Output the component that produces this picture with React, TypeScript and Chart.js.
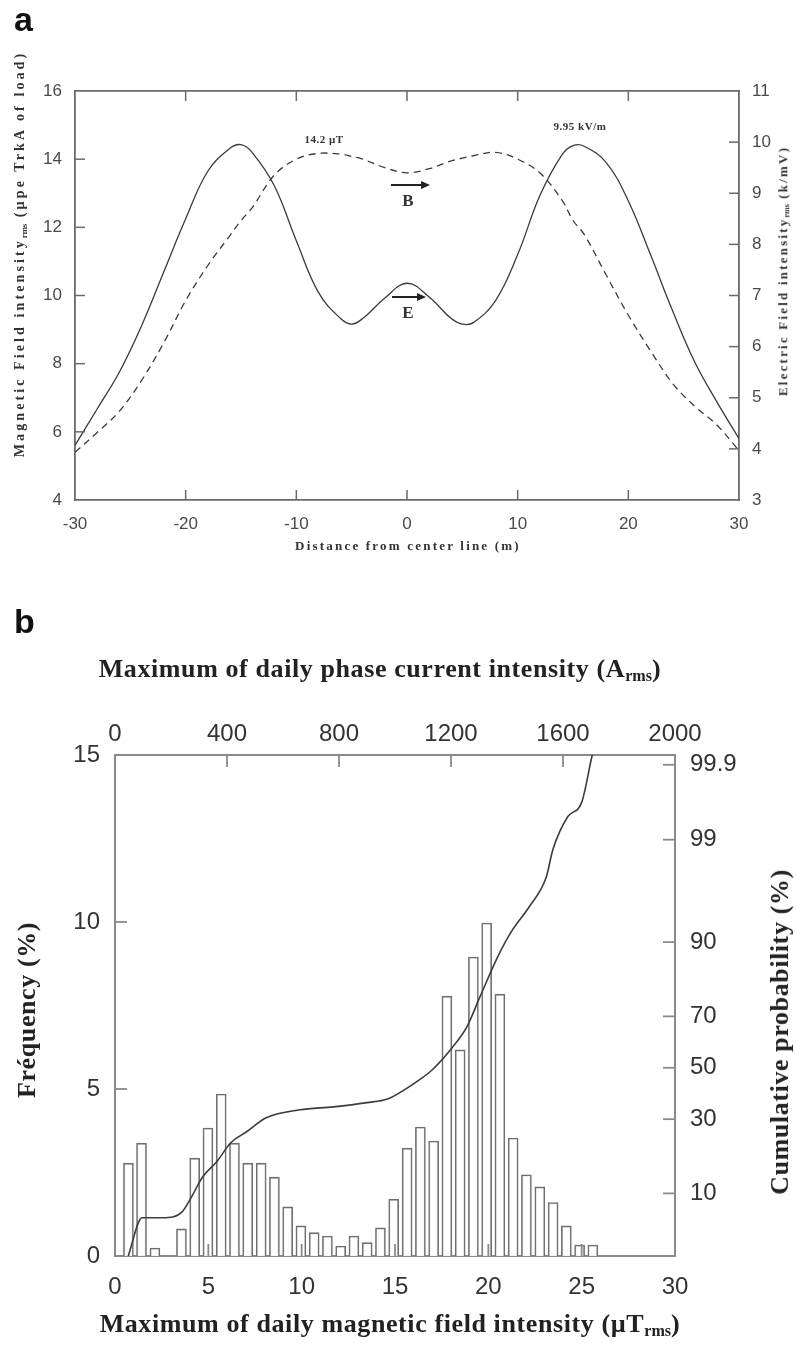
import React, { useEffect, useRef } from "react";
import { Chart, registerables } from "chart.js";
Chart.register(...registerables);

// ---------- Panel a data ----------
const DIST = [-30, -28, -26, -24, -22, -20, -18, -16, -15, -14, -12, -10, -8, -6, -5, -4, -2, 0, 2, 4, 5, 6, 8, 10, 12, 14, 15, 16, 18, 20, 22, 24, 26, 28, 30];
const E_FIELD = [4.07, 4.78, 5.5, 6.4, 7.45, 8.5, 9.43, 9.88, 9.95, 9.8, 9.15, 8.07, 7.06, 6.55, 6.44, 6.55, 6.95, 7.24, 6.97, 6.55, 6.44, 6.47, 6.9, 7.8, 8.95, 9.75, 9.93, 9.92, 9.6, 8.85, 7.8, 6.7, 5.7, 4.92, 4.2];
const B_FIELD = [5.4, 5.98, 6.6, 7.5, 8.6, 9.85, 10.88, 11.76, 12.2, 12.57, 13.53, 14.0, 14.17, 14.15, 14.08, 14.0, 13.75, 13.6, 13.72, 13.95, 14.03, 14.1, 14.2, 14.0, 13.6, 12.8, 12.2, 11.8, 10.6, 9.42, 8.38, 7.42, 6.75, 6.2, 5.45];
const A_X_TICKS = [-30, -20, -10, 0, 10, 20, 30];

// ---------- Panel b data ----------
const BIN_CENTERS = [0.72, 1.42, 2.14, 2.85, 3.56, 4.27, 4.98, 5.69, 6.4, 7.11, 7.83, 8.54, 9.25, 9.96, 10.67, 11.38, 12.09, 12.8, 13.51, 14.22, 14.93, 15.65, 16.36, 17.07, 17.78, 18.49, 19.2, 19.91, 20.62, 21.33, 22.04, 22.76, 23.47, 24.18, 24.89, 25.6];
const FREQ = [2.78, 3.38, 0.24, null, 0.81, 2.93, 3.83, 4.85, 3.38, 2.78, 2.78, 2.36, 1.47, 0.9, 0.7, 0.6, 0.3, 0.6, 0.4, 0.84, 1.7, 3.23, 3.86, 3.44, 7.78, 6.17, 8.95, 9.97, 7.84, 3.53, 2.43, 2.07, 1.6, 0.9, 0.33, 0.33];
const CUM_X = [0.7, 1.45, 2.5, 3.1, 3.6, 4.1, 4.7, 5.45, 6.2, 7.05, 8.1, 9.9, 11.7, 13.5, 14.6, 15.5, 16.3, 17.0, 18.1, 18.85, 19.55, 20.5, 21.2, 22.2, 23.1, 23.46, 24.26, 25.0, 25.55, 25.8];
const CUM_P = [2.7, 6.3, 6.3, 6.4, 7.1, 9.4, 13.3, 16.9, 22.2, 25.7, 30.5, 33.4, 34.5, 36.1, 37.5, 41.1, 45.1, 49.2, 58.5, 66.2, 76.5, 87.1, 91.6, 95.0, 97.4, 98.7, 99.48, 99.66, 99.925, 99.96];
const PROB_TICKS = [99.9, 99, 90, 70, 50, 30, 10];
const PROB_LABELS = ["99.9", "99", "90", "70", "50", "30", "10"];

// inverse normal CDF (probability-paper scale transform)
function probit(pct: number): number {
  const p = pct / 100;
  const a = [-3.969683028665376e1, 2.209460984245205e2, -2.759285104469687e2, 1.38357751867269e2, -3.066479806614716e1, 2.506628277459239];
  const b = [-5.447609879822406e1, 1.615858368580409e2, -1.556989798598866e2, 6.680131188771972e1, -1.328068155288572e1];
  const c = [-7.784894002430293e-3, -3.223964580411365e-1, -2.400758277161838, -2.549732539343734, 4.374664141464968, 2.938163982698783];
  const d = [7.784695709041462e-3, 3.224671290700398e-1, 2.445134137142996, 3.754408661907416];
  const plow = 0.02425;
  if (p < plow) {
    const q = Math.sqrt(-2 * Math.log(p));
    return (((((c[0] * q + c[1]) * q + c[2]) * q + c[3]) * q + c[4]) * q + c[5]) / ((((d[0] * q + d[1]) * q + d[2]) * q + d[3]) * q + 1);
  } else if (p <= 1 - plow) {
    const q = p - 0.5;
    const r = q * q;
    return ((((((a[0] * r + a[1]) * r + a[2]) * r + a[3]) * r + a[4]) * r + a[5]) * q) / (((((b[0] * r + b[1]) * r + b[2]) * r + b[3]) * r + b[4]) * r + 1);
  }
  const q = Math.sqrt(-2 * Math.log(1 - p));
  return -(((((c[0] * q + c[1]) * q + c[2]) * q + c[3]) * q + c[4]) * q + c[5]) / ((((d[0] * q + d[1]) * q + d[2]) * q + d[3]) * q + 1);
}

const innerTicks = {
  id: "innerTicks",
  afterDatasetsDraw(chart: any, _args: any, opts: any) {
    const { ctx, chartArea: a } = chart;
    const len = opts.length ?? 10;
    ctx.save();
    ctx.strokeStyle = opts.color ?? "#666";
    ctx.lineWidth = opts.width ?? 1.5;
    for (const id of Object.keys(chart.scales)) {
      const s = chart.scales[id];
      for (const t of s.ticks) {
        const p = s.getPixelForValue(t.value);
        if (s.isHorizontal()) {
          if (p <= a.left + 2 || p >= a.right - 2) continue;
          ctx.beginPath();
          if (s.position === "bottom") {
            ctx.moveTo(p, a.bottom);
            ctx.lineTo(p, a.bottom - len);
          } else {
            ctx.moveTo(p, a.top);
            ctx.lineTo(p, a.top + len);
          }
          ctx.stroke();
        } else {
          if (p <= a.top + 2 || p >= a.bottom - 2) continue;
          ctx.beginPath();
          if (s.position === "left") {
            ctx.moveTo(a.left, p);
            ctx.lineTo(a.left + len, p);
          } else {
            ctx.moveTo(a.right, p);
            ctx.lineTo(a.right - len, p);
          }
          ctx.stroke();
        }
      }
    }
    ctx.restore();
  },
};

const fixW = (w: number) => (s: any) => {
  s.width = w;
};
const fixH = (h: number) => (s: any) => {
  s.height = h;
};
const noGrid = { display: false, drawTicks: false, offset: false };

function PanelA() {
  const ref = useRef<HTMLCanvasElement>(null);
  useEffect(() => {
    const tickFont = { family: '"Liberation Sans", Arial, sans-serif', size: 17 };
    const axisColor = "#6a6a6a";
    const chart = new Chart(ref.current!, {
      type: "line",
      data: {
        datasets: [
          {
            label: "E",
            data: DIST.map((x, i) => ({ x, y: E_FIELD[i] })),
            yAxisID: "y2",
            xAxisID: "x",
            borderColor: "#3a3a3a",
            borderWidth: 1.3,
            pointRadius: 0,
            tension: 0.4,
            fill: false,
          },
          {
            label: "B",
            data: DIST.map((x, i) => ({ x, y: B_FIELD[i] })),
            yAxisID: "y",
            xAxisID: "x",
            borderColor: "#3a3a3a",
            borderWidth: 1.3,
            borderDash: [7, 5],
            pointRadius: 0,
            tension: 0.35,
            fill: false,
          },
        ],
      },
      options: {
        responsive: false,
        animation: false,
        events: [],
        layout: { padding: 0 },
        plugins: {
          legend: { display: false },
          tooltip: { enabled: false },
          innerTicks: { length: 10, color: axisColor, width: 1.5 },
        } as any,
        scales: {
          x: {
            type: "linear",
            position: "bottom",
            min: -30,
            max: 30,
            afterFit: fixH(60),
            afterBuildTicks: (s: any) => {
              s.ticks = A_X_TICKS.map((v) => ({ value: v }));
            },
            grid: noGrid,
            border: { display: true, color: axisColor, width: 1.8 },
            ticks: { font: tickFont, color: "#4a4a4a", padding: 14, maxRotation: 0, autoSkip: false },
          },
          x2: {
            type: "linear",
            position: "top",
            min: -30,
            max: 30,
            afterFit: fixH(91),
            afterBuildTicks: (s: any) => {
              s.ticks = A_X_TICKS.map((v) => ({ value: v }));
            },
            grid: noGrid,
            border: { display: true, color: axisColor, width: 1.8 },
            ticks: { display: false },
          },
          y: {
            type: "linear",
            position: "left",
            min: 4,
            max: 16,
            afterFit: fixW(75),
            grid: noGrid,
            border: { display: true, color: axisColor, width: 1.8 },
            ticks: { stepSize: 2, font: tickFont, color: "#4a4a4a", padding: 13 },
          },
          y2: {
            type: "linear",
            position: "right",
            min: 3,
            max: 11,
            afterFit: fixW(57),
            grid: noGrid,
            border: { display: true, color: axisColor, width: 1.8 },
            ticks: { stepSize: 1, font: tickFont, color: "#4a4a4a", padding: 13 },
          },
        },
      },
      plugins: [innerTicks],
    } as any);
    return () => chart.destroy();
  }, []);
  return <canvas ref={ref} width={796} height={560} style={{ position: "absolute", left: 0, top: 0, width: 796, height: 560 }} />;
}

function PanelB() {
  const ref = useRef<HTMLCanvasElement>(null);
  useEffect(() => {
    const tickFont = { family: '"Liberation Sans", Arial, sans-serif', size: 24 };
    const axisColor = "#8a8a8a";
    const zMin = -1.92;
    const zMax = 3.19;
    const chart = new Chart(ref.current!, {
      type: "bar",
      data: {
        datasets: [
          {
            type: "line",
            label: "Cumulative probability",
            data: CUM_X.map((x, i) => ({ x, y: probit(CUM_P[i]) })),
            xAxisID: "x",
            yAxisID: "yP",
            borderColor: "#3c3c3c",
            borderWidth: 1.6,
            pointRadius: 0,
            cubicInterpolationMode: "monotone",
            fill: false,
            order: 0,
          },
          {
            type: "bar",
            label: "Frequency",
            data: BIN_CENTERS.map((x, i) => ({ x, y: FREQ[i] })),
            xAxisID: "x",
            yAxisID: "y",
            backgroundColor: "rgba(255,255,255,0.9)",
            borderColor: "#707070",
            borderWidth: 1.6,
            barThickness: 10,
            order: 1,
          },
        ],
      },
      options: {
        responsive: false,
        animation: false,
        events: [],
        layout: { padding: 0 },
        plugins: {
          legend: { display: false },
          tooltip: { enabled: false },
          innerTicks: { length: 12, color: axisColor, width: 1.8 },
        } as any,
        scales: {
          x: {
            type: "linear",
            position: "bottom",
            min: 0,
            max: 30,
            offset: false,
            afterFit: fixH(90),
            grid: noGrid,
            border: { display: true, color: axisColor, width: 2 },
            ticks: { stepSize: 5, font: tickFont, color: "#333", padding: 17, maxRotation: 0, autoSkip: false },
          },
          xTop: {
            type: "linear",
            position: "top",
            min: 0,
            max: 2000,
            offset: false,
            afterFit: fixH(195),
            grid: noGrid,
            border: { display: true, color: axisColor, width: 2 },
            ticks: {
              stepSize: 400,
              font: tickFont,
              color: "#333",
              padding: 6,
              maxRotation: 0,
              autoSkip: false,
              callback: (v: any) => String(v),
            },
          },
          y: {
            type: "linear",
            position: "left",
            min: 0,
            max: 15,
            afterFit: fixW(115),
            grid: noGrid,
            border: { display: true, color: axisColor, width: 2 },
            ticks: { stepSize: 5, font: tickFont, color: "#333", padding: 15 },
          },
          yP: {
            type: "linear",
            position: "right",
            min: zMin,
            max: zMax,
            afterFit: fixW(121),
            afterBuildTicks: (s: any) => {
              s.ticks = PROB_TICKS.map((p) => ({ value: probit(p) }));
            },
            grid: noGrid,
            border: { display: true, color: axisColor, width: 2 },
            ticks: {
              font: tickFont,
              color: "#333",
              padding: 15,
              autoSkip: false,
              callback: (_v: any, i: number) => PROB_LABELS[i],
            },
          },
        },
      },
      plugins: [innerTicks],
    } as any);
    return () => chart.destroy();
  }, []);
  return <canvas ref={ref} width={796} height={786} style={{ position: "absolute", left: 0, top: 560, width: 796, height: 786 }} />;
}

const centered = (cx: number, cy: number, rot: number, extra: React.CSSProperties): React.CSSProperties => ({
  position: "absolute",
  left: cx,
  top: cy,
  whiteSpace: "nowrap",
  lineHeight: 1,
  transform: `translate(-50%, -50%)${rot ? ` rotate(${rot}deg)` : ""}`,
  ...extra,
});

const serifA: React.CSSProperties = {
  fontFamily: '"Liberation Serif", "Times New Roman", serif',
  fontWeight: "bold",
  fontSize: 13,
  letterSpacing: "2.2px",
  color: "#333",
};
const serifB: React.CSSProperties = {
  fontFamily: '"Liberation Serif", "Times New Roman", serif',
  fontWeight: "bold",
  fontSize: 26,
  letterSpacing: "0.6px",
  color: "#222",
};
const panelLetter: React.CSSProperties = {
  position: "absolute",
  left: 14,
  fontFamily: '"Liberation Sans", Arial, sans-serif',
  fontWeight: "bold",
  fontSize: 34,
  lineHeight: 1,
  color: "#111",
};
const sub: React.CSSProperties = { fontSize: "0.62em", verticalAlign: "-0.3em", letterSpacing: 0 };

function Arrow({ x1, x2, y }: { x1: number; x2: number; y: number }) {
  return (
    <div style={{ position: "absolute", left: x1, top: y - 1, width: x2 - x1, height: 2 }}>
      <div style={{ position: "absolute", left: 0, right: 6, top: 0, height: 2, background: "#222" }} />
      <div
        style={{
          position: "absolute",
          right: 0,
          top: -3,
          width: 0,
          height: 0,
          borderTop: "4px solid transparent",
          borderBottom: "4px solid transparent",
          borderLeft: "9px solid #222",
        }}
      />
    </div>
  );
}

export default function App() {
  return (
    <div style={{ position: "absolute", left: 0, top: 0, width: 796, height: 1346, background: "#fff", overflow: "hidden" }}>
      <PanelA />
      <PanelB />
      {/* Panel a texts */}
      <div style={{ ...panelLetter, top: 2 }}>a</div>
      <div style={centered(21, 254, -90, { ...serifA, fontSize: 14, letterSpacing: "3.1px" })}>
        Magnetic Field intensity<span style={sub}>rms</span> (µpe TrkA of load)
      </div>
      <div style={centered(784, 271, -90, serifA)}>
        Electric Field intensity<span style={sub}>rms</span> (k/mV)
      </div>
      <div style={centered(408, 545, 0, serifA)}>Distance from center line (m)</div>
      <div style={centered(324, 139, 0, { ...serifA, fontSize: 11, letterSpacing: "0.5px" })}>14.2 µT</div>
      <div style={centered(580, 126, 0, { ...serifA, fontSize: 11, letterSpacing: "0.5px" })}>9.95 kV/m</div>
      <Arrow x1={391} x2={430} y={185} />
      <div style={centered(408, 200, 0, { ...serifA, fontSize: 17, letterSpacing: 0 })}>B</div>
      <Arrow x1={392} x2={426} y={297} />
      <div style={centered(408, 312, 0, { ...serifA, fontSize: 17, letterSpacing: 0 })}>E</div>
      {/* Panel b texts */}
      <div style={{ ...panelLetter, top: 604 }}>b</div>
      <div style={centered(380, 670, 0, serifB)}>
        Maximum of daily phase current intensity (A<span style={sub}>rms</span>)
      </div>
      <div style={centered(390, 1325, 0, serifB)}>
        Maximum of daily magnetic field intensity (µT<span style={sub}>rms</span>)
      </div>
      <div style={centered(27, 1010, -90, serifB)}>Fréquency (%)</div>
      <div style={centered(780, 1032, -90, serifB)}>Cumulative probability (%)</div>
    </div>
  );
}
